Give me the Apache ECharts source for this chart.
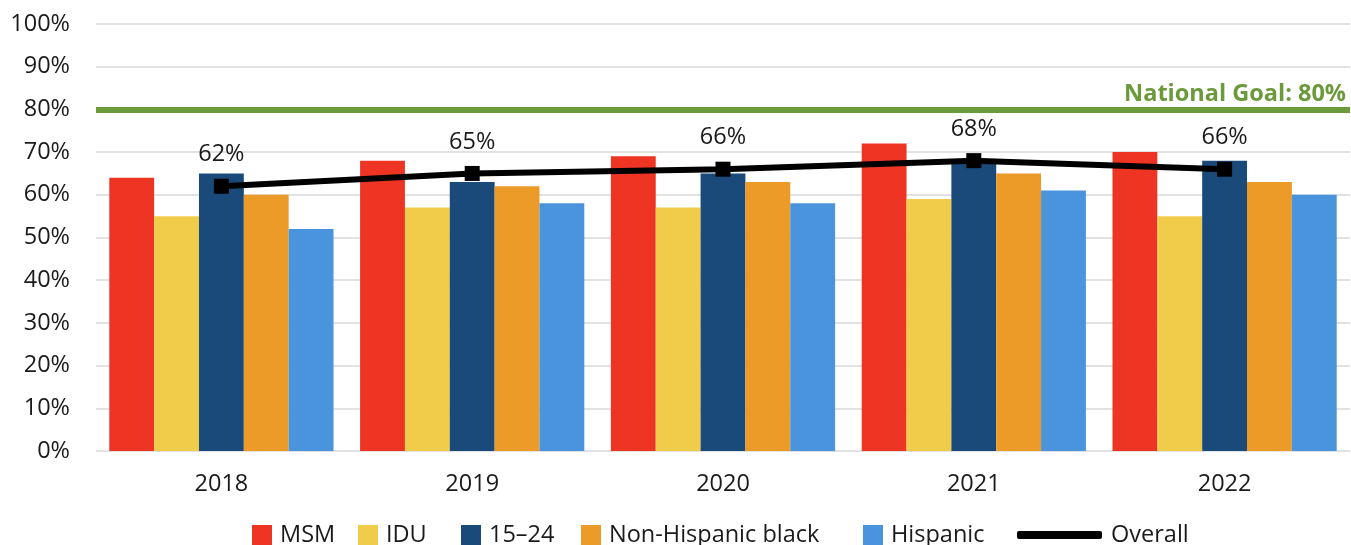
<!DOCTYPE html>
<html><head><meta charset="utf-8">
<script src="https://cdn.jsdelivr.net/npm/echarts@6/dist/echarts.min.js"></script>
<style>html,body{margin:0;padding:0;background:#fff}#c{width:1351px;height:545px}</style>
</head><body><div id="c"></div>
<script>
const years = ['2018','2019','2020','2021','2022'];
const msm = [64, 68, 69, 72, 70];
const idu = [55, 57, 57, 59, 55];
const young = [65, 63, 65, 68, 68];
const nhBlack = [60, 62, 63, 65, 63];
const hispanic = [52, 58, 58, 61, 60];
const overall = [62, 65, 66, 68, 66];
const goal = 80;
const yTicks = [0,10,20,30,40,50,60,70,80,90,100];

const FONT = 'Open Sans';
const FS = 23.5;
const chart = echarts.init(document.getElementById('c'));
const barNames = ['MSM','IDU','15–24','Non-Hispanic black','Hispanic'];
const barColors = ['#EE3524','#F1CC4A','#1A4A7A','#EC9A28','#4A94DE'];
const barData = [msm, idu, young, nhBlack, hispanic];

const series = barNames.map((n,i)=>({
  name:n, type:'bar', data:barData[i], barGap:'0%', barCategoryGap:'10.6%',
  itemStyle:{color:barColors[i]}, z:2
}));
series[0].markLine = {
  silent:true, symbol:'none',
  lineStyle:{color:'#6A9A3A', width:6, type:'solid'},
  label:{show:true, position:'insideEndTop', formatter:'National Goal: '+goal+'%',
    color:'#6A9A3A', fontFamily:FONT, fontWeight:'bold', fontSize:FS, distance:[4,3]},
  data:[{yAxis:goal}]
};
series.push({
  name:'Overall', type:'line', data:overall, symbol:'rect', symbolSize:15,
  itemStyle:{color:'#000'}, lineStyle:{color:'#000', width:6}, z:5,
  label:{show:true, position:'top', distance:12, formatter:p=>p.value+'%',
    color:'#1a1a1a', fontFamily:FONT, fontSize:FS}
});

const legendLefts = [252, 358, 461, 581, 863];
const legends = barNames.map((n,i)=>({
  data:[n], left:legendLefts[i], top:523, padding:0, itemWidth:20, itemHeight:20, itemGap:0,
  icon:'rect', textStyle:{fontFamily:FONT, fontSize:FS, color:'#1a1a1a', padding:[0,0,0,3]}
}));
legends.push({data:[{name:'Overall', icon:'roundRect'}], left:1017, top:523, padding:0, itemWidth:85, itemHeight:8,
  textStyle:{fontFamily:FONT, fontSize:FS, color:'#1a1a1a', padding:[0,0,0,4]}});

chart.setOption({
  animation:false,
  textStyle:{fontFamily:FONT},
  grid:{left:96, right:1, top:24, bottom:94, containLabel:false},
  legend:legends,
  xAxis:{type:'category', data:years, axisLine:{show:false}, axisTick:{show:false},
    axisLabel:{fontFamily:FONT, fontSize:FS, color:'#1a1a1a', margin:21}},
  yAxis:{type:'value', min:0, max:100, interval:10,
    axisLabel:{formatter:v=>yTicks.includes(v)?v+'%':'', fontFamily:FONT, fontSize:FS, color:'#1a1a1a', margin:26},
    splitLine:{lineStyle:{color:'#D9D9D9', width:1.5}}, axisLine:{show:false}, axisTick:{show:false}},
  series:series
});
</script></body></html>
